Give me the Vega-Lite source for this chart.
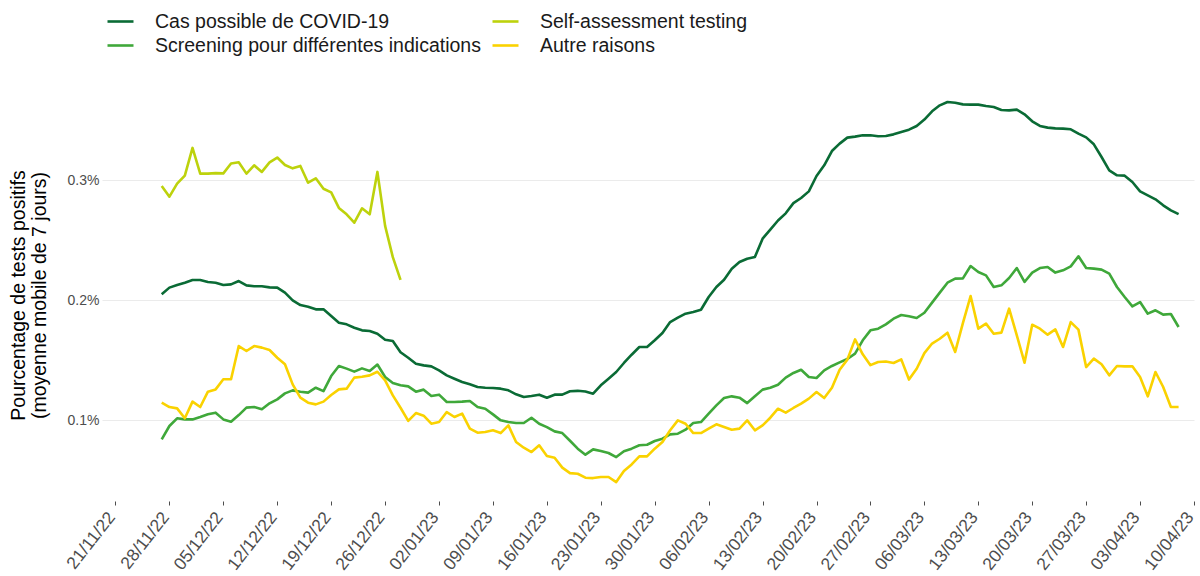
{
  "$schema": "https://vega.github.io/schema/vega-lite/v6.json",
  "width": 1092,
  "height": 418,
  "autosize": {"type": "none"},
  "padding": {"left": 102, "top": 83, "right": 6, "bottom": 75},
  "background": "white",
  "datasets": {
    "cas": [
      {"d":"2022-11-27","v":0.205},{"d":"2022-11-28","v":0.2106},{"d":"2022-11-29","v":0.2128},{"d":"2022-11-30","v":0.2147},
      {"d":"2022-12-01","v":0.2169},{"d":"2022-12-02","v":0.2169},{"d":"2022-12-03","v":0.2153},{"d":"2022-12-04","v":0.2147},
      {"d":"2022-12-05","v":0.2128},{"d":"2022-12-06","v":0.2133},{"d":"2022-12-07","v":0.2161},{"d":"2022-12-08","v":0.2125},
      {"d":"2022-12-09","v":0.2117},{"d":"2022-12-10","v":0.2117},{"d":"2022-12-11","v":0.2108},{"d":"2022-12-12","v":0.2106},
      {"d":"2022-12-13","v":0.2064},{"d":"2022-12-14","v":0.2},{"d":"2022-12-15","v":0.1961},{"d":"2022-12-16","v":0.1947},
      {"d":"2022-12-17","v":0.1925},{"d":"2022-12-18","v":0.1925},{"d":"2022-12-19","v":0.1869},{"d":"2022-12-20","v":0.1814},
      {"d":"2022-12-21","v":0.18},{"d":"2022-12-22","v":0.1772},{"d":"2022-12-23","v":0.175},{"d":"2022-12-24","v":0.1745},
      {"d":"2022-12-25","v":0.1722},{"d":"2022-12-26","v":0.1672},{"d":"2022-12-27","v":0.1661},{"d":"2022-12-28","v":0.1567},
      {"d":"2022-12-29","v":0.1522},{"d":"2022-12-30","v":0.1472},{"d":"2022-12-31","v":0.1458},{"d":"2023-01-01","v":0.145},
      {"d":"2023-01-02","v":0.1417},{"d":"2023-01-03","v":0.1375},{"d":"2023-01-04","v":0.1347},{"d":"2023-01-05","v":0.132},
      {"d":"2023-01-06","v":0.13},{"d":"2023-01-07","v":0.1278},{"d":"2023-01-08","v":0.1272},{"d":"2023-01-09","v":0.127},
      {"d":"2023-01-10","v":0.1264},{"d":"2023-01-11","v":0.125},{"d":"2023-01-12","v":0.1217},{"d":"2023-01-13","v":0.1194},
      {"d":"2023-01-14","v":0.1203},{"d":"2023-01-15","v":0.1214},{"d":"2023-01-16","v":0.1189},{"d":"2023-01-17","v":0.1214},
      {"d":"2023-01-18","v":0.1214},{"d":"2023-01-19","v":0.1242},{"d":"2023-01-20","v":0.1246},{"d":"2023-01-21","v":0.124},
      {"d":"2023-01-22","v":0.1222},{"d":"2023-01-23","v":0.1292},{"d":"2023-01-24","v":0.1347},{"d":"2023-01-25","v":0.1403},
      {"d":"2023-01-26","v":0.1478},{"d":"2023-01-27","v":0.1547},{"d":"2023-01-28","v":0.1611},{"d":"2023-01-29","v":0.1611},
      {"d":"2023-01-30","v":0.1667},{"d":"2023-01-31","v":0.1728},{"d":"2023-02-01","v":0.1819},{"d":"2023-02-02","v":0.1856},
      {"d":"2023-02-03","v":0.1889},{"d":"2023-02-04","v":0.1903},{"d":"2023-02-05","v":0.1922},{"d":"2023-02-06","v":0.2028},
      {"d":"2023-02-07","v":0.2111},{"d":"2023-02-08","v":0.2172},{"d":"2023-02-09","v":0.2264},{"d":"2023-02-10","v":0.2319},
      {"d":"2023-02-11","v":0.2347},{"d":"2023-02-12","v":0.2361},{"d":"2023-02-13","v":0.2514},{"d":"2023-02-14","v":0.2589},
      {"d":"2023-02-15","v":0.2665},{"d":"2023-02-16","v":0.2725},{"d":"2023-02-17","v":0.281},{"d":"2023-02-18","v":0.2853},
      {"d":"2023-02-19","v":0.2908},{"d":"2023-02-20","v":0.3036},{"d":"2023-02-21","v":0.3125},{"d":"2023-02-22","v":0.3244},
      {"d":"2023-02-23","v":0.3306},{"d":"2023-02-24","v":0.3356},{"d":"2023-02-25","v":0.3364},{"d":"2023-02-26","v":0.3375},
      {"d":"2023-02-27","v":0.3375},{"d":"2023-02-28","v":0.3367},{"d":"2023-03-01","v":0.337},{"d":"2023-03-02","v":0.3383},
      {"d":"2023-03-03","v":0.3403},{"d":"2023-03-04","v":0.3422},{"d":"2023-03-05","v":0.3453},{"d":"2023-03-06","v":0.3506},
      {"d":"2023-03-07","v":0.3575},{"d":"2023-03-08","v":0.3625},{"d":"2023-03-09","v":0.3653},{"d":"2023-03-10","v":0.3647},
      {"d":"2023-03-11","v":0.3633},{"d":"2023-03-12","v":0.3631},{"d":"2023-03-13","v":0.3631},{"d":"2023-03-14","v":0.3619},
      {"d":"2023-03-15","v":0.3611},{"d":"2023-03-16","v":0.3586},{"d":"2023-03-17","v":0.3583},{"d":"2023-03-18","v":0.3589},
      {"d":"2023-03-19","v":0.355},{"d":"2023-03-20","v":0.3492},{"d":"2023-03-21","v":0.3453},{"d":"2023-03-22","v":0.3439},
      {"d":"2023-03-23","v":0.3433},{"d":"2023-03-24","v":0.3431},{"d":"2023-03-25","v":0.3425},{"d":"2023-03-26","v":0.3389},
      {"d":"2023-03-27","v":0.3358},{"d":"2023-03-28","v":0.33},{"d":"2023-03-29","v":0.3194},{"d":"2023-03-30","v":0.3083},
      {"d":"2023-03-31","v":0.3042},{"d":"2023-04-01","v":0.3039},{"d":"2023-04-02","v":0.2986},{"d":"2023-04-03","v":0.2908},
      {"d":"2023-04-04","v":0.2875},{"d":"2023-04-05","v":0.2842},{"d":"2023-04-06","v":0.2792},{"d":"2023-04-07","v":0.275},
      {"d":"2023-04-08","v":0.2719}
    ],
    "screening": [
      {"d":"2022-11-27","v":0.0842},{"d":"2022-11-28","v":0.0953},{"d":"2022-11-29","v":0.1017},{"d":"2022-11-30","v":0.1008},
      {"d":"2022-12-01","v":0.1008},{"d":"2022-12-02","v":0.1028},{"d":"2022-12-03","v":0.105},{"d":"2022-12-04","v":0.1064},
      {"d":"2022-12-05","v":0.1008},{"d":"2022-12-06","v":0.0989},{"d":"2022-12-07","v":0.1044},{"d":"2022-12-08","v":0.1106},
      {"d":"2022-12-09","v":0.1111},{"d":"2022-12-10","v":0.1092},{"d":"2022-12-11","v":0.1142},{"d":"2022-12-12","v":0.1175},
      {"d":"2022-12-13","v":0.1225},{"d":"2022-12-14","v":0.125},{"d":"2022-12-15","v":0.1239},{"d":"2022-12-16","v":0.1231},
      {"d":"2022-12-17","v":0.1272},{"d":"2022-12-18","v":0.1244},{"d":"2022-12-19","v":0.1369},{"d":"2022-12-20","v":0.1453},
      {"d":"2022-12-21","v":0.1431},{"d":"2022-12-22","v":0.1406},{"d":"2022-12-23","v":0.1433},{"d":"2022-12-24","v":0.1411},
      {"d":"2022-12-25","v":0.1465},{"d":"2022-12-26","v":0.1361},{"d":"2022-12-27","v":0.1311},{"d":"2022-12-28","v":0.1292},
      {"d":"2022-12-29","v":0.1283},{"d":"2022-12-30","v":0.1239},{"d":"2022-12-31","v":0.1256},{"d":"2023-01-01","v":0.1203},
      {"d":"2023-01-02","v":0.1214},{"d":"2023-01-03","v":0.1153},{"d":"2023-01-04","v":0.1153},{"d":"2023-01-05","v":0.1156},
      {"d":"2023-01-06","v":0.1161},{"d":"2023-01-07","v":0.1111},{"d":"2023-01-08","v":0.1097},{"d":"2023-01-09","v":0.105},
      {"d":"2023-01-10","v":0.1},{"d":"2023-01-11","v":0.0986},{"d":"2023-01-12","v":0.0978},{"d":"2023-01-13","v":0.0978},
      {"d":"2023-01-14","v":0.1022},{"d":"2023-01-15","v":0.0972},{"d":"2023-01-16","v":0.0944},{"d":"2023-01-17","v":0.0908},
      {"d":"2023-01-18","v":0.0894},{"d":"2023-01-19","v":0.083},{"d":"2023-01-20","v":0.0764},{"d":"2023-01-21","v":0.0714},
      {"d":"2023-01-22","v":0.0758},{"d":"2023-01-23","v":0.0744},{"d":"2023-01-24","v":0.0728},{"d":"2023-01-25","v":0.0694},
      {"d":"2023-01-26","v":0.0742},{"d":"2023-01-27","v":0.0764},{"d":"2023-01-28","v":0.0792},{"d":"2023-01-29","v":0.0797},
      {"d":"2023-01-30","v":0.0828},{"d":"2023-01-31","v":0.0847},{"d":"2023-02-01","v":0.0883},{"d":"2023-02-02","v":0.0889},
      {"d":"2023-02-03","v":0.0922},{"d":"2023-02-04","v":0.0978},{"d":"2023-02-05","v":0.0986},{"d":"2023-02-06","v":0.1056},
      {"d":"2023-02-07","v":0.1125},{"d":"2023-02-08","v":0.1186},{"d":"2023-02-09","v":0.12},{"d":"2023-02-10","v":0.1189},
      {"d":"2023-02-11","v":0.1144},{"d":"2023-02-12","v":0.12},{"d":"2023-02-13","v":0.1256},{"d":"2023-02-14","v":0.1272},
      {"d":"2023-02-15","v":0.1297},{"d":"2023-02-16","v":0.1356},{"d":"2023-02-17","v":0.1395},{"d":"2023-02-18","v":0.1422},
      {"d":"2023-02-19","v":0.1361},{"d":"2023-02-20","v":0.1353},{"d":"2023-02-21","v":0.1417},{"d":"2023-02-22","v":0.1453},
      {"d":"2023-02-23","v":0.1483},{"d":"2023-02-24","v":0.1511},{"d":"2023-02-25","v":0.1556},{"d":"2023-02-26","v":0.1667},
      {"d":"2023-02-27","v":0.175},{"d":"2023-02-28","v":0.1764},{"d":"2023-03-01","v":0.18},{"d":"2023-03-02","v":0.1847},
      {"d":"2023-03-03","v":0.1878},{"d":"2023-03-04","v":0.1867},{"d":"2023-03-05","v":0.1853},{"d":"2023-03-06","v":0.1897},
      {"d":"2023-03-07","v":0.1981},{"d":"2023-03-08","v":0.2064},{"d":"2023-03-09","v":0.2147},{"d":"2023-03-10","v":0.2181},
      {"d":"2023-03-11","v":0.2183},{"d":"2023-03-12","v":0.2286},{"d":"2023-03-13","v":0.2236},{"d":"2023-03-14","v":0.2208},
      {"d":"2023-03-15","v":0.2111},{"d":"2023-03-16","v":0.2125},{"d":"2023-03-17","v":0.2186},{"d":"2023-03-18","v":0.2269},
      {"d":"2023-03-19","v":0.2153},{"d":"2023-03-20","v":0.2231},{"d":"2023-03-21","v":0.2269},{"d":"2023-03-22","v":0.2278},
      {"d":"2023-03-23","v":0.2231},{"d":"2023-03-24","v":0.225},{"d":"2023-03-25","v":0.2283},{"d":"2023-03-26","v":0.2367},
      {"d":"2023-03-27","v":0.2269},{"d":"2023-03-28","v":0.2264},{"d":"2023-03-29","v":0.2256},{"d":"2023-03-30","v":0.2222},
      {"d":"2023-03-31","v":0.2111},{"d":"2023-04-01","v":0.2028},{"d":"2023-04-02","v":0.195},{"d":"2023-04-03","v":0.1986},
      {"d":"2023-04-04","v":0.1889},{"d":"2023-04-05","v":0.1917},{"d":"2023-04-06","v":0.1881},{"d":"2023-04-07","v":0.1886},
      {"d":"2023-04-08","v":0.1778}
    ],
    "selfassess": [
      {"d":"2022-11-27","v":0.2953},{"d":"2022-11-28","v":0.2864},{"d":"2022-11-29","v":0.2972},{"d":"2022-11-30","v":0.304},
      {"d":"2022-12-01","v":0.327},{"d":"2022-12-02","v":0.3056},{"d":"2022-12-03","v":0.3056},{"d":"2022-12-04","v":0.306},
      {"d":"2022-12-05","v":0.3058},{"d":"2022-12-06","v":0.314},{"d":"2022-12-07","v":0.315},{"d":"2022-12-08","v":0.3056},
      {"d":"2022-12-09","v":0.3125},{"d":"2022-12-10","v":0.307},{"d":"2022-12-11","v":0.315},{"d":"2022-12-12","v":0.319},
      {"d":"2022-12-13","v":0.3128},{"d":"2022-12-14","v":0.31},{"d":"2022-12-15","v":0.312},{"d":"2022-12-16","v":0.298},
      {"d":"2022-12-17","v":0.3017},{"d":"2022-12-18","v":0.293},{"d":"2022-12-19","v":0.29},{"d":"2022-12-20","v":0.277},
      {"d":"2022-12-21","v":0.2717},{"d":"2022-12-22","v":0.2647},{"d":"2022-12-23","v":0.2767},{"d":"2022-12-24","v":0.2717},
      {"d":"2022-12-25","v":0.307},{"d":"2022-12-26","v":0.262},{"d":"2022-12-27","v":0.236},{"d":"2022-12-28","v":0.217}
    ],
    "autre": [
      {"d":"2022-11-27","v":0.1147},{"d":"2022-11-28","v":0.1111},{"d":"2022-11-29","v":0.11},{"d":"2022-11-30","v":0.1017},
      {"d":"2022-12-01","v":0.1156},{"d":"2022-12-02","v":0.1111},{"d":"2022-12-03","v":0.1239},{"d":"2022-12-04","v":0.1258},
      {"d":"2022-12-05","v":0.1342},{"d":"2022-12-06","v":0.1342},{"d":"2022-12-07","v":0.1619},{"d":"2022-12-08","v":0.1578},
      {"d":"2022-12-09","v":0.1619},{"d":"2022-12-10","v":0.1606},{"d":"2022-12-11","v":0.1586},{"d":"2022-12-12","v":0.1522},
      {"d":"2022-12-13","v":0.1467},{"d":"2022-12-14","v":0.13},{"d":"2022-12-15","v":0.1189},{"d":"2022-12-16","v":0.1147},
      {"d":"2022-12-17","v":0.1133},{"d":"2022-12-18","v":0.1156},{"d":"2022-12-19","v":0.1211},{"d":"2022-12-20","v":0.1258},
      {"d":"2022-12-21","v":0.1264},{"d":"2022-12-22","v":0.1356},{"d":"2022-12-23","v":0.1364},{"d":"2022-12-24","v":0.1375},
      {"d":"2022-12-25","v":0.1405},{"d":"2022-12-26","v":0.1333},{"d":"2022-12-27","v":0.1208},{"d":"2022-12-28","v":0.1105},
      {"d":"2022-12-29","v":0.0995},{"d":"2022-12-30","v":0.1061},{"d":"2022-12-31","v":0.1039},{"d":"2023-01-01","v":0.0972},
      {"d":"2023-01-02","v":0.0986},{"d":"2023-01-03","v":0.1069},{"d":"2023-01-04","v":0.1028},{"d":"2023-01-05","v":0.1056},
      {"d":"2023-01-06","v":0.0931},{"d":"2023-01-07","v":0.0897},{"d":"2023-01-08","v":0.0903},{"d":"2023-01-09","v":0.0917},
      {"d":"2023-01-10","v":0.0894},{"d":"2023-01-11","v":0.0958},{"d":"2023-01-12","v":0.0819},{"d":"2023-01-13","v":0.0772},
      {"d":"2023-01-14","v":0.0736},{"d":"2023-01-15","v":0.0792},{"d":"2023-01-16","v":0.0703},{"d":"2023-01-17","v":0.0689},
      {"d":"2023-01-18","v":0.0606},{"d":"2023-01-19","v":0.056},{"d":"2023-01-20","v":0.0555},{"d":"2023-01-21","v":0.0522},
      {"d":"2023-01-22","v":0.0519},{"d":"2023-01-23","v":0.0528},{"d":"2023-01-24","v":0.0528},{"d":"2023-01-25","v":0.0486},
      {"d":"2023-01-26","v":0.0578},{"d":"2023-01-27","v":0.0633},{"d":"2023-01-28","v":0.07},{"d":"2023-01-29","v":0.07},
      {"d":"2023-01-30","v":0.0764},{"d":"2023-01-31","v":0.0819},{"d":"2023-02-01","v":0.0917},{"d":"2023-02-02","v":0.1},
      {"d":"2023-02-03","v":0.0972},{"d":"2023-02-04","v":0.0894},{"d":"2023-02-05","v":0.0894},{"d":"2023-02-06","v":0.0931},
      {"d":"2023-02-07","v":0.0967},{"d":"2023-02-08","v":0.0944},{"d":"2023-02-09","v":0.0922},{"d":"2023-02-10","v":0.0931},
      {"d":"2023-02-11","v":0.1},{"d":"2023-02-12","v":0.0917},{"d":"2023-02-13","v":0.0958},{"d":"2023-02-14","v":0.1022},
      {"d":"2023-02-15","v":0.1097},{"d":"2023-02-16","v":0.1064},{"d":"2023-02-17","v":0.1103},{"d":"2023-02-18","v":0.1139},
      {"d":"2023-02-19","v":0.1181},{"d":"2023-02-20","v":0.1236},{"d":"2023-02-21","v":0.1186},{"d":"2023-02-22","v":0.1272},
      {"d":"2023-02-23","v":0.1422},{"d":"2023-02-24","v":0.1506},{"d":"2023-02-25","v":0.1675},{"d":"2023-02-26","v":0.155},
      {"d":"2023-02-27","v":0.146},{"d":"2023-02-28","v":0.1486},{"d":"2023-03-01","v":0.149},{"d":"2023-03-02","v":0.1478},
      {"d":"2023-03-03","v":0.1508},{"d":"2023-03-04","v":0.134},{"d":"2023-03-05","v":0.143},{"d":"2023-03-06","v":0.156},
      {"d":"2023-03-07","v":0.164},{"d":"2023-03-08","v":0.168},{"d":"2023-03-09","v":0.173},{"d":"2023-03-10","v":0.157},
      {"d":"2023-03-11","v":0.181},{"d":"2023-03-12","v":0.2036},{"d":"2023-03-13","v":0.1764},{"d":"2023-03-14","v":0.1806},
      {"d":"2023-03-15","v":0.1722},{"d":"2023-03-16","v":0.1731},{"d":"2023-03-17","v":0.1931},{"d":"2023-03-18","v":0.1708},
      {"d":"2023-03-19","v":0.1481},{"d":"2023-03-20","v":0.1797},{"d":"2023-03-21","v":0.1764},{"d":"2023-03-22","v":0.1714},
      {"d":"2023-03-23","v":0.1758},{"d":"2023-03-24","v":0.1611},{"d":"2023-03-25","v":0.1819},{"d":"2023-03-26","v":0.1756},
      {"d":"2023-03-27","v":0.1444},{"d":"2023-03-28","v":0.1514},{"d":"2023-03-29","v":0.1467},{"d":"2023-03-30","v":0.1375},
      {"d":"2023-03-31","v":0.1453},{"d":"2023-04-01","v":0.145},{"d":"2023-04-02","v":0.145},{"d":"2023-04-03","v":0.1361},
      {"d":"2023-04-04","v":0.12},{"d":"2023-04-05","v":0.1403},{"d":"2023-04-06","v":0.1278},{"d":"2023-04-07","v":0.1111},
      {"d":"2023-04-08","v":0.1111}
    ]
  },
  "encoding": {
    "x": {
      "field": "d",
      "type": "temporal",
      "scale": {
        "type": "utc",
        "domain": [
          {"year": 2022, "month": 11, "date": 19, "hours": 6, "utc": true},
          {"year": 2023, "month": 4, "date": 10, "utc": true}
        ]
      },
      "axis": {
        "title": null,
        "format": "%d/%m/%y",
        "values": [
          {"year": 2022, "month": 11, "date": 21, "utc": true},
          {"year": 2022, "month": 11, "date": 28, "utc": true},
          {"year": 2022, "month": 12, "date": 5, "utc": true},
          {"year": 2022, "month": 12, "date": 12, "utc": true},
          {"year": 2022, "month": 12, "date": 19, "utc": true},
          {"year": 2022, "month": 12, "date": 26, "utc": true},
          {"year": 2023, "month": 1, "date": 2, "utc": true},
          {"year": 2023, "month": 1, "date": 9, "utc": true},
          {"year": 2023, "month": 1, "date": 16, "utc": true},
          {"year": 2023, "month": 1, "date": 23, "utc": true},
          {"year": 2023, "month": 1, "date": 30, "utc": true},
          {"year": 2023, "month": 2, "date": 6, "utc": true},
          {"year": 2023, "month": 2, "date": 13, "utc": true},
          {"year": 2023, "month": 2, "date": 20, "utc": true},
          {"year": 2023, "month": 2, "date": 27, "utc": true},
          {"year": 2023, "month": 3, "date": 6, "utc": true},
          {"year": 2023, "month": 3, "date": 13, "utc": true},
          {"year": 2023, "month": 3, "date": 20, "utc": true},
          {"year": 2023, "month": 3, "date": 27, "utc": true},
          {"year": 2023, "month": 4, "date": 3, "utc": true},
          {"year": 2023, "month": 4, "date": 10, "utc": true}
        ],
        "labelAngle": -52,
        "labelAlign": "right",
        "labelBaseline": "alphabetic",
        "labelFontSize": 17.5,
        "labelColor": "#4d4d4d",
        "labelPadding": 12,
        "labelOverlap": false,
        "labelFlush": false,
        "domain": false,
        "grid": false,
        "ticks": true,
        "tickSize": 4,
        "tickColor": "#4d4d4d",
        "tickWidth": 1
      }
    },
    "y": {
      "field": "v",
      "type": "quantitative",
      "scale": {"domain": [0.0328, 0.3811], "nice": false, "zero": false},
      "axis": {
        "title": ["Pourcentage de tests positifs", "(moyenne mobile de 7 jours)"],
        "titleFontSize": 19.5,
        "titleFontWeight": "normal",
        "titleColor": "#000000",
        "titleLineHeight": 21,
        "titleAngle": -90,
        "titleX": -93,
        "titleY": 212,
        "titleAlign": "center",
        "titleBaseline": "top",
        "values": [0.1, 0.2, 0.3],
        "labelExpr": "format(datum.value, '.1f') + '%'",
        "labelFontSize": 14,
        "labelColor": "#4d4d4d",
        "labelPadding": 3,
        "domain": false,
        "ticks": false,
        "grid": true,
        "gridColor": "#ebebeb",
        "gridWidth": 1.2
      }
    }
  },
  "layer": [
    {
      "data": {"name": "cas"},
      "mark": {"type": "line", "strokeWidth": 2.6, "strokeJoin": "round"},
      "encoding": {
        "color": {
          "datum": "Cas possible de COVID-19",
          "type": "nominal",
          "scale": {
            "domain": ["Cas possible de COVID-19", "Self-assessment testing", "Screening pour différentes indications", "Autre raisons"],
            "range": ["#0a6b35", "#bdd20c", "#3fa83a", "#fad200"]
          },
          "legend": {
            "orient": "none",
            "legendX": 4,
            "legendY": -76,
            "columns": 2,
            "direction": "horizontal",
            "title": null,
            "padding": 0,
            "symbolType": "M-1,0H1",
            "symbolSize": 676,
            "symbolStrokeWidth": 2.6,
            "symbolFillColor": null,
            "labelFontSize": 19.5,
            "labelColor": "#1a1a1a",
            "labelOffset": 20,
            "rowPadding": 0,
            "columnPadding": 6,
            "labelLimit": 0
          }
        }
      }
    },
    {
      "data": {"name": "screening"},
      "mark": {"type": "line", "strokeWidth": 2.6, "strokeJoin": "round"},
      "encoding": {"color": {"datum": "Screening pour différentes indications", "type": "nominal"}}
    },
    {
      "data": {"name": "selfassess"},
      "mark": {"type": "line", "strokeWidth": 2.6, "strokeJoin": "round"},
      "encoding": {"color": {"datum": "Self-assessment testing", "type": "nominal"}}
    },
    {
      "data": {"name": "autre"},
      "mark": {"type": "line", "strokeWidth": 2.6, "strokeJoin": "round"},
      "encoding": {"color": {"datum": "Autre raisons", "type": "nominal"}}
    }
  ],
  "config": {
    "font": "Liberation Sans",
    "view": {"stroke": null},
    "legend": {"symbolStrokeColor": null}
  }
}
